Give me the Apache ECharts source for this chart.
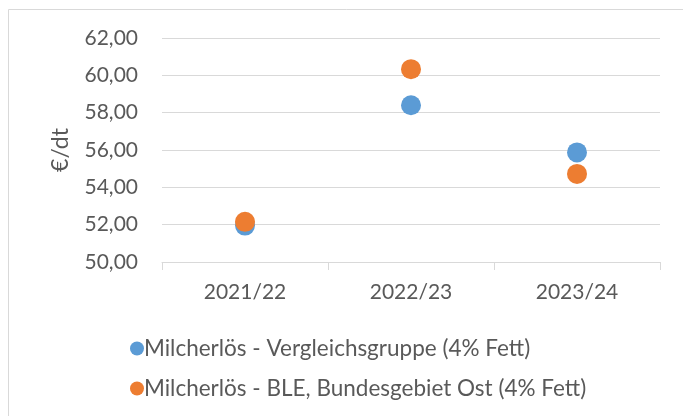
<!DOCTYPE html>
<html>
<head>
<meta charset="utf-8">
<script src="https://cdn.jsdelivr.net/npm/echarts@6/dist/echarts.min.js"></script>
<style>
  html, body { margin: 0; padding: 0; background: #fff; }
  #chart { width: 683px; height: 416px; }
</style>
</head>
<body>
<div id="chart"></div>
<script>
const categories = ['2021/22', '2022/23', '2023/24'];
const vergleichsgruppe = [51.95, 58.4, 55.87];
const bleOst = [52.15, 60.33, 54.72];
const seriesNames = [
  'Milcherlös - Vergleichsgruppe (4% Fett)',
  'Milcherlös - BLE, Bundesgebiet Ost (4% Fett)'
];

const font = 'Lato, "Open Sans", sans-serif';
const textColor = '#595959';

const chart = echarts.init(document.getElementById('chart'));
chart.setOption({
  animation: false,
  textStyle: { fontFamily: font },
  graphic: [{
    type: 'rect',
    shape: { x: 8.5, y: 9.5, width: 700, height: 420 },
    style: { fill: 'none', stroke: '#d9d9d9', lineWidth: 1 },
    silent: true
  }],
  grid: { left: 162, right: 23, top: 38, bottom: 154 },
  legend: {
    orient: 'vertical',
    left: 125,
    top: 332,
    itemGap: 17,
    itemWidth: 14,
    itemHeight: 14,
    icon: 'circle',
    textStyle: { color: textColor, fontSize: 22.5, fontFamily: font, padding: [0, 0, 0, -5] },
    data: seriesNames
  },
  xAxis: {
    type: 'category',
    data: categories,
    boundaryGap: true,
    axisLine: { lineStyle: { color: '#d9d9d9', width: 1 } },
    axisTick: { show: true, length: 8, lineStyle: { color: '#d9d9d9' } },
    axisLabel: { color: textColor, fontSize: 21, margin: 20 }
  },
  yAxis: {
    type: 'value',
    min: 50,
    max: 62,
    interval: 2,
    name: '€/dt',
    nameLocation: 'middle',
    nameGap: 90,
    nameRotate: 90,
    nameTextStyle: { color: textColor, fontSize: 23 },
    axisLine: { show: false },
    axisTick: { show: false },
    axisLabel: {
      color: textColor,
      fontSize: 21,
      margin: 24,
      formatter: v => v.toFixed(2).replace('.', ',')
    },
    splitLine: { lineStyle: { color: '#d9d9d9', width: 1 } }
  },
  series: [
    {
      name: seriesNames[0],
      type: 'scatter',
      data: vergleichsgruppe,
      symbolSize: 20,
      itemStyle: { color: '#5b9bd5', opacity: 1 }
    },
    {
      name: seriesNames[1],
      type: 'scatter',
      data: bleOst,
      symbolSize: 20,
      itemStyle: { color: '#ed7d31', opacity: 1 }
    }
  ]
});
</script>
</body>
</html>
